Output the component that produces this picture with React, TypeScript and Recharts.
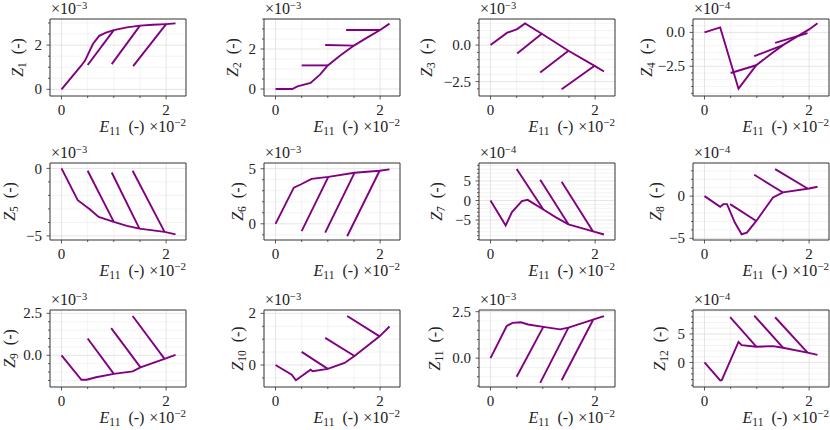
import React from "react";
import { LineChart, Line, XAxis, YAxis, CartesianGrid, ReferenceArea } from "recharts";

type Pt = [number, number];

const FONT = "'Liberation Serif', 'DejaVu Serif', serif";
const PURPLE = "#800080";

// strain axis, shared by every panel (units of 1e-2)
const X_TICKS = [0, 2];
const X_MINOR = [0.5, 1, 1.5];
const X_DOMAIN: [number, number] = [-0.22, 2.38];

// main loading paths + three unloading branches per component
const z1Main: Pt[] = [[0, 0], [0.38, 1.08], [0.45, 1.3], [0.6, 2.05], [0.72, 2.42], [0.85, 2.56], [1.0, 2.68], [1.25, 2.8], [1.5, 2.88], [1.75, 2.92], [2.0, 2.95], [2.18, 2.98]];
const z1Unload: Pt[][] = [[[1.0, 2.68], [0.5, 1.1]], [[1.5, 2.88], [0.96, 1.14]], [[2.0, 2.95], [1.37, 1.05]]];

const z2Main: Pt[] = [[0, 0], [0.32, 0], [0.42, 0.13], [0.67, 0.3], [0.85, 0.72], [1.0, 1.18], [1.25, 1.7], [1.5, 2.17], [1.75, 2.57], [2.0, 2.95], [2.18, 3.27]];
const z2Unload: Pt[][] = [[[1.0, 1.18], [0.5, 1.18]], [[1.5, 2.17], [0.95, 2.2]], [[2.0, 2.95], [1.35, 2.95]]];

const z3Main: Pt[] = [[0, 0], [0.32, 0.85], [0.51, 1.1], [0.66, 1.49], [0.98, 0.78], [1.49, -0.39], [1.99, -1.42], [2.17, -1.81]];
const z3Unload: Pt[][] = [[[0.98, 0.78], [0.51, -0.57]], [[1.49, -0.39], [0.95, -1.88]], [[1.99, -1.42], [1.36, -3.03]]];

const z4Main: Pt[] = [[0, 0], [0.3, 0.37], [0.65, -4.16], [0.99, -2.43], [1.25, -1.65], [1.5, -0.94], [1.75, -0.35], [2.0, 0.22], [2.16, 0.67]];
const z4Unload: Pt[][] = [[[0.99, -2.43], [0.5, -3.0]], [[1.5, -0.94], [0.95, -1.76]], [[1.97, -0.05], [1.35, -0.77]]];

const z5Main: Pt[] = [[0, 0], [0.31, -2.35], [0.54, -3.02], [0.71, -3.59], [1.0, -3.96], [1.25, -4.25], [1.49, -4.46], [1.97, -4.7], [2.18, -4.88]];
const z5Unload: Pt[][] = [[[1.0, -3.96], [0.5, -0.17]], [[1.49, -4.46], [0.96, -0.3]], [[1.97, -4.7], [1.36, -0.17]]];

const z6Main: Pt[] = [[0, 0], [0.35, 3.28], [0.49, 3.59], [0.69, 4.08], [1.01, 4.26], [1.51, 4.63], [1.99, 4.82], [2.18, 4.94]];
const z6Unload: Pt[][] = [[[1.01, 4.26], [0.5, -0.67]], [[1.51, 4.63], [0.95, -0.8]], [[1.99, 4.82], [1.37, -1.13]]];

const z7Main: Pt[] = [[0, 0], [0.29, -6.36], [0.41, -2.97], [0.6, -0.17], [0.71, 0.17], [1.01, -2.29], [1.25, -4.3], [1.49, -6.1], [1.96, -7.9], [2.17, -8.7]];
const z7Unload: Pt[][] = [[[1.01, -2.29], [0.5, 8.05]], [[1.49, -6.1], [0.95, 5.3]], [[1.96, -7.9], [1.36, 4.83]]];

const z8Main: Pt[] = [[0, 0], [0.3, -1.27], [0.36, -0.95], [0.43, -0.95], [0.58, -3.13], [0.71, -4.52], [0.81, -4.33], [0.99, -2.94], [1.31, -0.16], [1.5, 0.44], [2.0, 0.91], [2.16, 1.11]];
const z8Unload: Pt[][] = [[[0.99, -2.94], [0.49, -0.95]], [[1.5, 0.44], [0.95, 2.54]], [[1.97, 0.9], [1.35, 3.21]]];

const z9Main: Pt[] = [[0, 0], [0.38, -1.46], [0.48, -1.46], [0.66, -1.31], [1.0, -1.11], [1.36, -0.96], [1.51, -0.72], [1.97, -0.21], [2.18, 0.02]];
const z9Unload: Pt[][] = [[[1.0, -1.11], [0.5, 1.0]], [[1.51, -0.72], [0.95, 1.62]], [[1.97, -0.21], [1.36, 2.34]]];

const z10Main: Pt[] = [[0, 0], [0.31, -0.37], [0.39, -0.59], [0.67, -0.18], [0.71, -0.24], [1.0, -0.15], [1.32, 0.08], [1.51, 0.35], [1.99, 1.11], [2.18, 1.49]];
const z10Unload: Pt[][] = [[[1.0, -0.15], [0.5, 0.51]], [[1.51, 0.35], [0.95, 1.05]], [[1.99, 1.11], [1.37, 1.9]]];

const z11Main: Pt[] = [[0, 0], [0.31, 1.73], [0.42, 1.9], [0.58, 1.93], [0.72, 1.81], [1.01, 1.68], [1.33, 1.55], [1.49, 1.64], [1.99, 2.1], [2.17, 2.26]];
const z11Unload: Pt[][] = [[[1.01, 1.68], [0.5, -1.0]], [[1.49, 1.64], [0.95, -1.33]], [[1.96, 2.05], [1.36, -1.19]]];

const z12Main: Pt[] = [[0, 0], [0.3, -3.16], [0.33, -3.1], [0.65, 3.62], [0.71, 3.05], [0.99, 2.76], [1.31, 2.87], [1.5, 2.59], [1.97, 1.72], [2.16, 1.32]];
const z12Unload: Pt[][] = [[[0.99, 2.76], [0.49, 7.93]], [[1.5, 2.59], [0.95, 8.22]], [[1.97, 1.72], [1.35, 7.93]]];

// per-panel y axis
const yTicks = [[0, 2], [0, 2], [-2.5, 0], [-2.5, 0], [-5, 0], [0, 5], [-5, 0, 5], [-5, 0], [0, 2.5], [0, 2], [0, 2.5], [0, 5]];
const yDecimals = [0, 0, 1, 1, 0, 0, 0, 0, 1, 0, 1, 0];
const yMinorStep = [0.5, 0.5, 0.5, 0.5, 1, 1, 1, 1, 0.5, 0.5, 0.5, 1];
const yExponent = [-3, -3, -3, -4, -3, -3, -4, -4, -3, -3, -3, -4];
const yDomains: [number, number][] = [
  [-0.3, 3.18], [-0.35, 3.5], [-3.49, 1.79], [-4.7, 0.99],
  [-5.3, 0.4], [-1.47, 5.52], [-10.1, 9.6], [-5.2, 3.93],
  [-1.89, 2.7], [-0.85, 2.13], [-1.55, 2.59], [-4.3, 9.2],
];

const mains = [z1Main, z2Main, z3Main, z4Main, z5Main, z6Main, z7Main, z8Main, z9Main, z10Main, z11Main, z12Main];
const unloads = [z1Unload, z2Unload, z3Unload, z4Unload, z5Unload, z6Unload, z7Unload, z8Unload, z9Unload, z10Unload, z11Unload, z12Unload];

// layout
const COL_LEFT = [50, 264, 479, 693];
const ROW_TOP = [19, 163, 310];
const PW = 136;
const PH = 77;
const YLABEL_OFF = [32, 31, 52, 46, 40, 26, 42, 37, 40, 26, 44, 33];

const fmt = (v: number, dec: number) => (dec ? v.toFixed(1) : String(v)).replace("-", "\u2212");

const minorTicks = (dom: [number, number], step: number, major: number[]) => {
  const out: number[] = [];
  for (let v = Math.ceil(dom[0] / step) * step; v <= dom[1]; v += step) {
    const r = Math.round(v * 1000) / 1000;
    if (!major.includes(r)) out.push(r);
  }
  return out;
};

const toRows = (pts: Pt[]) => pts.map(([x, y]) => ({ x, y }));

const txt = { fontFamily: FONT, fill: "#222" };

function Panel({ i }: { i: number }) {
  const L = COL_LEFT[i % 4];
  const T = ROW_TOP[Math.floor(i / 4)];
  const major = yTicks[i];
  const dom = yDomains[i];
  const minor = minorTicks(dom, yMinorStep[i], major);
  const dec = yDecimals[i];

  const XTick = (p: any) => {
    const isMajor = X_TICKS.includes(p.payload.value);
    return (
      <g>
        <line x1={p.x} x2={p.x} y1={p.y} y2={p.y + (isMajor ? 3.5 : 2)} stroke="#333" strokeWidth={0.8} />
        {isMajor && (
          <text x={p.x} y={p.y + 19} textAnchor="middle" fontSize={15} style={txt}>
            {fmt(p.payload.value, 0)}
          </text>
        )}
      </g>
    );
  };

  const YTick = (p: any) => {
    const isMajor = major.includes(p.payload.value);
    return (
      <g>
        <line x1={p.x} x2={p.x - (isMajor ? 3.5 : 2)} y1={p.y} y2={p.y} stroke="#333" strokeWidth={0.8} />
        {isMajor && (
          <text x={p.x - 8} y={p.y} dy="0.34em" textAnchor="end" fontSize={15} style={txt}>
            {fmt(p.payload.value, dec)}
          </text>
        )}
      </g>
    );
  };

  return (
    <div style={{ position: "absolute", left: 0, top: 0 }}>
      <LineChart
        width={830}
        height={430}
        margin={{ top: T, left: L - 30, right: 830 - L - PW, bottom: 430 - T - PH - 20 }}
      >
        <CartesianGrid horizontalValues={minor} verticalValues={X_MINOR} stroke="#f0f0f0" strokeWidth={0.8} />
        <CartesianGrid horizontalValues={major} verticalValues={X_TICKS} stroke="#dedede" strokeWidth={0.8} />
        <XAxis
          type="number"
          dataKey="x"
          domain={X_DOMAIN}
          allowDataOverflow
          ticks={[...X_TICKS, ...X_MINOR].sort((a, b) => a - b)}
          interval={0}
          height={20}
          tickSize={0}
          tickMargin={0}
          tickLine={false}
          axisLine={false}
          tick={<XTick />}
        />
        <YAxis
          type="number"
          dataKey="y"
          domain={dom}
          allowDataOverflow
          ticks={[...major, ...minor].sort((a, b) => a - b)}
          interval={0}
          width={30}
          tickSize={0}
          tickMargin={0}
          tickLine={false}
          axisLine={false}
          tick={<YTick />}
        />
        <Line
          data={toRows(mains[i])}
          dataKey="y"
          stroke={PURPLE}
          strokeWidth={1.9}
          dot={false}
          type="linear"
          isAnimationActive={false}
        />
        {unloads[i].map((seg, k) => (
          <Line
            key={k}
            data={toRows(seg)}
            dataKey="y"
            stroke={PURPLE}
            strokeWidth={1.9}
            dot={false}
            type="linear"
            isAnimationActive={false}
          />
        ))}
        <ReferenceArea
          x1={X_DOMAIN[0]}
          x2={X_DOMAIN[1]}
          y1={dom[0]}
          y2={dom[1]}
          fill="none"
          stroke="#333"
          strokeWidth={1}
          ifOverflow="visible"
        />
      </LineChart>
    </div>
  );
}

function Labels() {
  return (
    <svg width={830} height={430} style={{ position: "absolute", left: 0, top: 0, pointerEvents: "none" }}>
      {mains.map((_, i) => {
        const L = COL_LEFT[i % 4];
        const T = ROW_TOP[Math.floor(i / 4)];
        const yc = T + PH / 2;
        const xl = L - YLABEL_OFF[i] + 5;
        return (
          <g key={i}>
            <text x={L + 1} y={T - 5} fontSize={16} style={txt}>
              ×10<tspan dy={-5} fontSize={10.5}>{"\u2212" + Math.abs(yExponent[i])}</tspan>
            </text>
            <text transform={`translate(${xl},${yc}) rotate(-90)`} textAnchor="middle" fontSize={16} style={txt}>
              <tspan fontStyle="italic">Z</tspan>
              <tspan fontSize={11.5} dy={3}>{i + 1}</tspan>
              <tspan dy={-3}>{"\u00a0\u00a0(-)"}</tspan>
            </text>
            <text x={L + 72} y={T + PH + 36} textAnchor="middle" fontSize={16} style={txt}>
              <tspan fontStyle="italic">E</tspan>
              <tspan fontSize={11.5} dy={3}>11</tspan>
              <tspan dy={-3}>{"\u00a0\u00a0(-)"}</tspan>
            </text>
            <text x={L + 136} y={T + PH + 36} textAnchor="end" fontSize={16} style={txt}>
              ×10<tspan dy={-6} fontSize={11}>{"\u22122"}</tspan>
            </text>
          </g>
        );
      })}
    </svg>
  );
}

export default function App() {
  return (
    <div style={{ position: "absolute", left: 0, top: 0, width: 830, height: 430, background: "#fff" }}>
      {mains.map((_, i) => (
        <Panel key={i} i={i} />
      ))}
      <Labels />
    </div>
  );
}
